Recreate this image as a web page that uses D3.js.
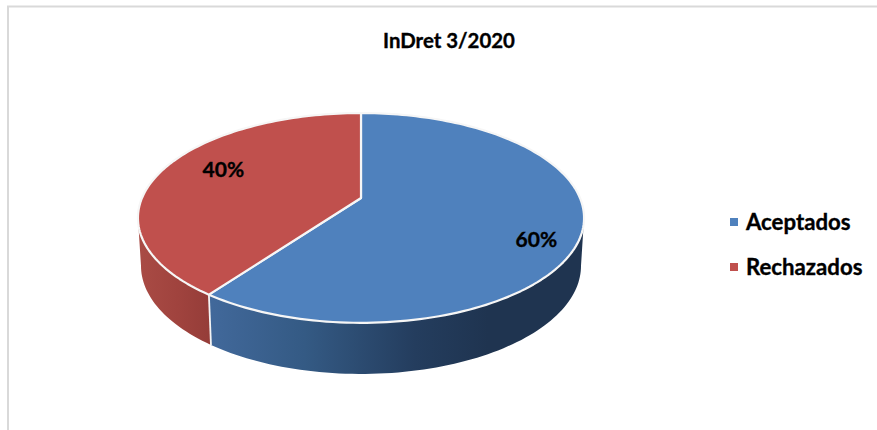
<!DOCTYPE html>
<html>
<head>
<meta charset="utf-8">
<script src="https://cdn.jsdelivr.net/npm/d3@7"></script>
<style>
  html, body { margin: 0; padding: 0; background: #fff; overflow: hidden; }
  text { font-family: Lato, "Open Sans", sans-serif; font-weight: 700; fill: #000; stroke: #000; stroke-width: 0.35; }
</style>
</head>
<body>
<svg id="chart" width="877" height="430"></svg>
<script>
const title = 'InDret 3/2020';
const categories = ['Aceptados', 'Rechazados'];
const values = [60, 40];

const colors = d3.scaleOrdinal().domain(categories).range(['#4f81bd', '#c0504d']);

const svg = d3.select('#chart');
const defs = svg.append('defs');

// the tilted pie: top and bottom rim share one perspective factor
const CX = 361;
const K = -0.19;
const topRim = { r: 219, a: 63.5, b: 198 };
const lowRim = { r: 216, a: 57.6, b: 245.3 };
const EDGE = Math.acos(K); // angle where the rim is widest

function project(angle, t, rim) {
  const v = -Math.cos(angle) * t;
  const d = 1 + K * v;
  return [CX + (rim.r * Math.sin(angle) * t) / d, (rim.a * v + rim.b) / d];
}

function arcPoints(a0, a1, rim) {
  const n = Math.max(2, Math.ceil(Math.abs(a1 - a0) * 40));
  return d3.range(n + 1).map((i) => project(a0 + ((a1 - a0) * i) / n, 1, rim));
}

const slices = d3.pie().sort(null).value((d) => d)(values);
const line = d3.line();

// wall gradients, both run left to right in page coordinates
const wallStops = [
  [[0, '#41689a'], [0.25, '#345a84'], [0.55, '#243d5e'], [0.75, '#1f3450'], [1, '#1f3450']],
  [[0, '#a84a44'], [0.5, '#a0433e'], [1, '#943c38']],
];
const wallRanges = [
  [213, 580],
  [143, 213],
];
wallStops.forEach((stops, i) => {
  const g = defs
    .append('linearGradient')
    .attr('id', `wall-${i}`)
    .attr('gradientUnits', 'userSpaceOnUse')
    .attr('x1', wallRanges[i][0])
    .attr('x2', wallRanges[i][1])
    .attr('y1', 0)
    .attr('y2', 0);
  stops.forEach((s) => g.append('stop').attr('offset', s[0]).attr('stop-color', s[1]));
});

// side walls
const wallLayer = svg.append('g');
slices.forEach((d, i) => {
  const a0 = Math.max(d.startAngle, EDGE);
  const a1 = Math.min(d.endAngle, 2 * Math.PI - EDGE);
  const pts = arcPoints(a0, a1, topRim).concat(arcPoints(a1, a0, lowRim));
  wallLayer
    .append('path')
    .attr('d', line(pts) + 'Z')
    .attr('fill', `url(#wall-${i})`);
});

// white seam between the two walls
const seam = slices[0].endAngle;
wallLayer
  .append('path')
  .attr('d', line([project(seam, 1, topRim), project(seam, 1, lowRim)]))
  .attr('stroke', '#f4f4f4')
  .attr('stroke-width', 1.8)
  .attr('fill', 'none');

// top faces
const topLayer = svg.append('g');
slices.forEach((d, i) => {
  const pts = [project(0, 0, topRim)].concat(arcPoints(d.startAngle, d.endAngle, topRim));
  topLayer
    .append('path')
    .attr('d', line(pts) + 'Z')
    .attr('fill', colors(categories[i]))
    .attr('stroke', '#f6f6f6')
    .attr('stroke-width', 2.2)
    .attr('stroke-linejoin', 'round');
});

// percent labels
const labelSpots = [
  { t: 0.8, dy: 14 },
  { t: 0.69, dy: -9 },
];
const total = d3.sum(values);
slices.forEach((d, i) => {
  const p = project((d.startAngle + d.endAngle) / 2, labelSpots[i].t, topRim);
  svg
    .append('text')
    .attr('x', p[0] + 0.5)
    .attr('y', p[1] + labelSpots[i].dy)
    .attr('text-anchor', 'middle')
    .attr('dominant-baseline', 'central')
    .attr('font-size', 21)
    .text(`${Math.round((d.value / total) * 100)}%`);
});

// title
svg
  .append('text')
  .attr('x', 449)
  .attr('y', 40)
  .attr('text-anchor', 'middle')
  .attr('dominant-baseline', 'central')
  .attr('font-size', 20.4)
  .text(title);

// legend
const legendY = d3.scalePoint().domain(categories).range([221, 266]);
const legend = svg
  .append('g')
  .selectAll('g')
  .data(categories)
  .enter()
  .append('g')
  .attr('transform', (d) => `translate(0,${legendY(d)})`);
legend
  .append('rect')
  .attr('x', 730)
  .attr('y', -3)
  .attr('width', 8)
  .attr('height', 8)
  .attr('fill', (d) => colors(d));
legend
  .append('text')
  .attr('x', 746)
  .attr('y', 0)
  .attr('dominant-baseline', 'central')
  .attr('font-size', 22.2)
  .text((d) => d);

// chart frame, only top and left show in the crop
svg
  .append('path')
  .attr('d', 'M877,6.5H8V430')
  .attr('fill', 'none')
  .attr('stroke', '#d9d9d9')
  .attr('stroke-width', 2);
</script>
</body>
</html>
